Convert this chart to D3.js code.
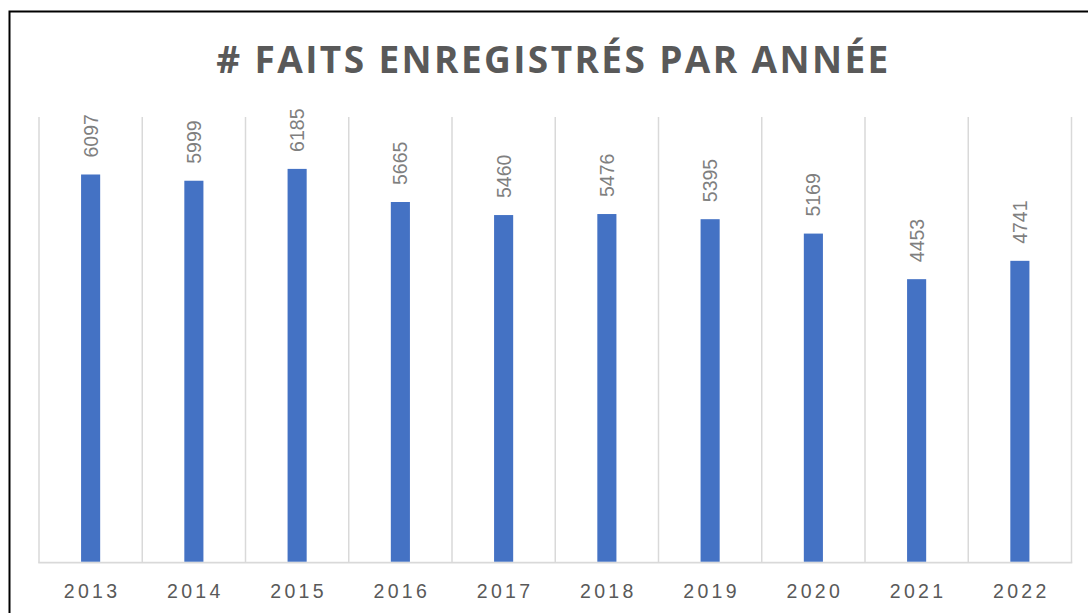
<!DOCTYPE html>
<html>
<head>
<meta charset="utf-8">
<script src="https://cdn.jsdelivr.net/npm/d3@7"></script>
<style>
  body { margin: 0; background: #fff; }
  svg { display: block; }
</style>
</head>
<body>
<div id="chart"></div>
<script>
const years = ["2013", "2014", "2015", "2016", "2017", "2018", "2019", "2020", "2021", "2022"];
const faits = [6097, 5999, 6185, 5665, 5460, 5476, 5395, 5169, 4453, 4741];
const yDomain = [0, 7000];

const W = 1088, H = 613;
const plot = {left: 39, right: 1071.5, top: 117, bottom: 562.7};

const svg = d3.select("#chart").append("svg")
    .attr("width", W)
    .attr("height", H);

// cadre noir
svg.append("rect")
    .attr("x", 9.5).attr("y", 11.5)
    .attr("width", 1100).attr("height", 700)
    .attr("fill", "none")
    .attr("stroke", "#000")
    .attr("stroke-width", 2);

svg.append("text")
    .attr("x", 553.5)
    .attr("y", 72.5)
    .attr("text-anchor", "middle")
    .style("font-family", "'Open Sans', sans-serif")
    .style("font-weight", "bold")
    .style("font-size", "37px")
    .style("letter-spacing", "2.4px")
    .style("fill", "#595959")
    .text("# FAITS ENREGISTRÉS PAR ANNÉE");

const data = years.map((y, i) => ({year: y, value: faits[i]}));

var x = d3.scaleBand()
    .domain(years)
    .range([plot.left, plot.right])
    .padding(0);

var y = d3.scaleLinear()
    .domain(yDomain)
    .range([plot.bottom, plot.top]);

// lignes verticales entre les catégories
const bounds = years.map(d => x(d)).concat([plot.right]);
svg.selectAll("line.grid")
    .data(bounds)
    .enter().append("line")
    .attr("class", "grid")
    .attr("x1", d => d).attr("x2", d => d)
    .attr("y1", y(yDomain[1])).attr("y2", y(0))
    .attr("stroke", "#d9d9d9")
    .attr("stroke-width", 1.5);

svg.append("line")
    .attr("x1", plot.left - 0.75).attr("x2", plot.right + 0.75)
    .attr("y1", y(0)).attr("y2", y(0))
    .attr("stroke", "#d9d9d9")
    .attr("stroke-width", 1.8);

const barW = x.bandwidth() * 0.185;

svg.selectAll("rect.bar")
    .data(data)
    .enter().append("rect")
    .attr("class", "bar")
    .attr("x", d => x(d.year) + x.bandwidth() / 2 - barW / 2)
    .attr("y", d => y(d.value))
    .attr("width", barW)
    .attr("height", d => y(0) - y(d.value) - 1)
    .attr("fill", "#4472c4");

// valeurs, texte vertical
svg.selectAll("text.val")
    .data(data)
    .enter().append("text")
    .attr("class", "val")
    .attr("transform", d => "translate(" + (x(d.year) + x.bandwidth() / 2) + "," + (y(d.value) - 17) + ") rotate(-90)")
    .attr("dy", "0.36em")
    .style("font-family", "'Liberation Sans', Arial, sans-serif")
    .style("font-size", "19.5px")
    .style("fill", "#7f7f7f")
    .text(d => d.value);

svg.selectAll("text.year")
    .data(years)
    .enter().append("text")
    .attr("class", "year")
    .attr("x", d => x(d) + x.bandwidth() / 2 + 1.5)
    .attr("y", 598)
    .attr("text-anchor", "middle")
    .style("font-family", "'Liberation Sans', Arial, sans-serif")
    .style("font-size", "19.5px")
    .style("letter-spacing", "3.3px")
    .style("fill", "#595959")
    .text(d => d);
</script>
</body>
</html>
